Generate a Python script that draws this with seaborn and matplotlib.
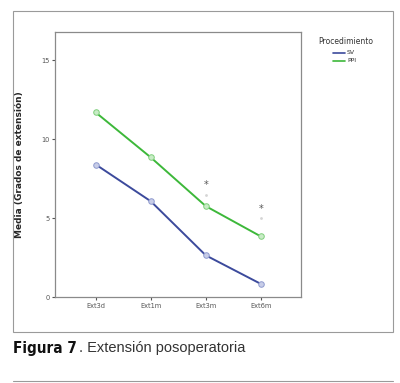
import numpy as np
import pandas as pd
import matplotlib.pyplot as plt
import seaborn as sns
from matplotlib.patches import Rectangle
from matplotlib.lines import Line2D

tiempos = ['Ext3d', 'Ext1m', 'Ext3m', 'Ext6m']
sv_media = [8.4, 6.07, 2.64, 0.83]
ppi_media = [11.7, 8.85, 5.76, 3.84]
extremos_x = ['Ext3m', 'Ext6m']
extremos_y = [7.1, 5.58]
puntos_y = [6.45, 5.0]

df = pd.DataFrame({
    'Tiempo': tiempos * 2,
    'Media': sv_media + ppi_media,
    'Procedimiento': ['SV'] * 4 + ['PPI'] * 4,
})

sns.set_style('white')
plt.rcParams['font.family'] = ['DejaVu Sans']

fig = plt.figure(figsize=(4.0, 3.83), dpi=100)
W, H = 400, 383

# outer frame
fig.patches.append(Rectangle((13 / W, 1 - 332 / H), 380 / W, 321 / H, transform=fig.transFigure,
                             fill=False, edgecolor='#9a9a9a', linewidth=0.8))
fig.lines.append(Line2D([13 / W, 393 / W], [1 - 381 / H, 1 - 381 / H], transform=fig.transFigure,
                        color='#9a9a9a', linewidth=0.8))

ax = fig.add_axes([55 / W, 1 - 297 / H, 246 / W, 265 / H])
colores = {'SV': '#3c4a9c', 'PPI': '#3db83a'}
rellenos = {'SV': '#c8cde8', 'PPI': '#c8ecc6'}
sns.lineplot(data=df, x='Tiempo', y='Media', hue='Procedimiento', palette=colores, ax=ax,
             linewidth=1.4, marker='o', markersize=4, legend=False)
for ln in ax.lines:
    c = ln.get_color()
    nombre = [k for k, v in colores.items() if v == c][0]
    ln.set_markeredgecolor('#8f9bcf' if nombre == 'SV' else '#7fcf7c')
    ln.set_markerfacecolor(rellenos[nombre])
    ln.set_markeredgewidth(0.7)

# outliers
ax.scatter([tiempos.index(t) for t in extremos_x], puntos_y, s=1, color='#d5d5d5')
for t, y in zip(extremos_x, extremos_y):
    ax.text(tiempos.index(t), y, '*', ha='center', va='center', fontsize=7, color='#555555')

ax.set_xlim(-0.74, 3.73)
ax.set_ylim(0, 16.8)
ax.set_yticks([0, 5, 10, 15])
ax.set_xlabel('')
ax.set_ylabel('Media (Grados de extensión)', fontsize=6.5, fontweight='bold', labelpad=12)
ax.tick_params(axis='both', labelsize=4.8, colors='#555555', length=2, width=0.8,
               direction='out', left=True, bottom=True, pad=2)
for s in ax.spines.values():
    s.set_color('#8a8a8a')
    s.set_linewidth(0.9)

# legend
fig.text(346 / W, 1 - 42 / H, 'Procedimiento', fontsize=5.5, ha='center', va='center', color='#333333')
for i, (nombre, c) in enumerate(colores.items()):
    y = 1 - (53 + 8 * i) / H
    fig.lines.append(Line2D([333 / W, 345 / W], [y, y], transform=fig.transFigure, color=c, linewidth=1.2))
    fig.text(347 / W, y, nombre, fontsize=4.5, ha='left', va='center', color='#333333')

# caption
fig.text(13 / W, 1 - 348 / H, 'Figura 7', fontsize=11, fontweight='bold', ha='left', va='center',
         family='DejaVu Sans', fontstretch='condensed', color='#111111')
fig.text(79 / W, 1 - 348 / H, '. Extensión posoperatoria', fontsize=10.5, ha='left', va='center',
         family='Liberation Sans', color='#333333')

fig.savefig('out.png', dpi=100)
